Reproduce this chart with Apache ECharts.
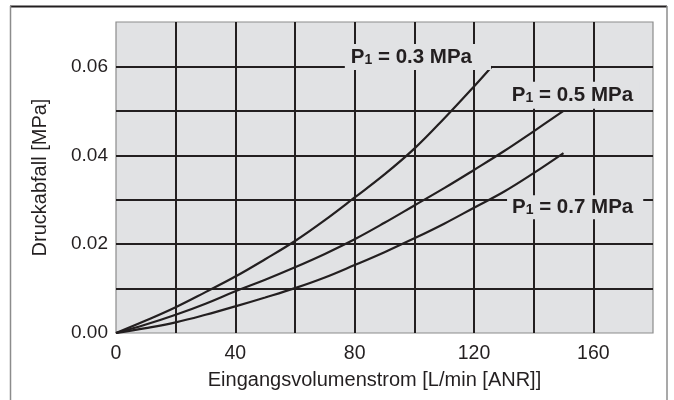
<!DOCTYPE html>
<html>
<head>
<meta charset="utf-8">
<script src="https://cdn.jsdelivr.net/npm/echarts@6/dist/echarts.min.js"></script>
<style>
html,body{margin:0;padding:0;background:#fff;}
#chart{width:674px;height:400px;}
</style>
</head>
<body>
<div id="chart"></div>
<script>
// Flow (L/min [ANR]) vs. pressure drop (MPa)
const flow03 = [0, 10, 20, 30, 40, 50, 60, 70, 80, 90, 100, 110, 120, 126];
const drop03 = [0, 0.0028, 0.0058, 0.0092, 0.0127, 0.0166, 0.0207, 0.0254, 0.0305, 0.0357, 0.0415, 0.0483, 0.0555, 0.0600];
const flow05 = [0, 10, 20, 30, 40, 50, 60, 70, 80, 90, 100, 110, 120, 130, 140, 150];
const drop05 = [0, 0.0019, 0.0041, 0.0066, 0.0094, 0.0120, 0.0148, 0.0178, 0.0211, 0.0248, 0.0287, 0.0326, 0.0367, 0.0409, 0.0454, 0.0500];
const flow07 = [0, 10, 20, 30, 40, 50, 60, 70, 80, 90, 100, 110, 120, 130, 140, 150];
const drop07 = [0, 0.0011, 0.0024, 0.0041, 0.0060, 0.0080, 0.0101, 0.0125, 0.0153, 0.0182, 0.0213, 0.0246, 0.0282, 0.0318, 0.0360, 0.0405];

const seriesNames = ['0.3 MPa', '0.5 MPa', '0.7 MPa'];
const labelX = [101.2, 153.0, 153.9];
const labelY = [0.0621, 0.0535, 0.0283];

const xTicks = [0, 40, 80, 120, 160];
const yTicks = [0, 0.02, 0.04, 0.06];

const xName = 'Eingangsvolumenstrom [L/min [ANR]]';
const yName = 'Druckabfall [MPa]';

const INK = '#231f20';
const PLOT_BG = '#e1e2e4';
const FONT = '"Liberation Sans", Arial, Helvetica, sans-serif';
const LABEL_PAD = [[2, 19, 2, 6], [2, 6, 3, 6], [1, 10, 1, 5]];

function pairs(xs, ys) { return xs.map((x, i) => [x, ys[i]]); }
const allData = [pairs(flow03, drop03), pairs(flow05, drop05), pairs(flow07, drop07)];

const chart = echarts.init(document.getElementById('chart'), null, {renderer: 'canvas'});

const series = allData.map((d, i) => ({
  type: 'line',
  name: seriesNames[i],
  data: d,
  smooth: 0.4,
  showSymbol: false,
  symbol: 'none',
  lineStyle: {color: INK, width: 2.2},
  z: 3,
  markPoint: {
    symbol: 'rect',
    symbolSize: 0,
    silent: true,
    data: [{coord: [labelX[i], labelY[i]]}],
    label: {
      show: true,
      position: 'inside',
      formatter: '{p|P}{s|1}{p| = ' + seriesNames[i] + '}',
      backgroundColor: PLOT_BG,
      padding: LABEL_PAD[i],
      rich: {
        p: {fontFamily: FONT, fontSize: 20.5, fontWeight: 'bold', color: INK, lineHeight: 22, verticalAlign: 'bottom'},
        s: {fontFamily: FONT, fontSize: 14, fontWeight: 'bold', color: INK, lineHeight: 22, verticalAlign: 'bottom', padding: [0, 0, 1, 0]}
      }
    }
  }
}));

chart.setOption({
  animation: false,
  backgroundColor: '#ffffff',
  grid: {
    left: 116, right: 21, top: 22, bottom: 67,
    show: true, backgroundColor: PLOT_BG, borderColor: '#8c8c8c', borderWidth: 1.2
  },
  xAxis: {
    type: 'value', min: 0, max: 180, interval: 20,
    name: xName, nameLocation: 'middle', nameGap: 37,
    nameTextStyle: {fontFamily: FONT, fontSize: 20, color: INK, padding: [0, 20, 0, 0]},
    axisLine: {show: false}, axisTick: {show: false},
    axisLabel: {
      fontFamily: FONT, fontSize: 19.5, color: INK, margin: 11,
      formatter: v => xTicks.indexOf(Math.round(v)) >= 0 ? String(Math.round(v)) : ''
    },
    splitLine: {show: true, showMinLine: false, showMaxLine: false, lineStyle: {color: INK, width: 2}}
  },
  yAxis: {
    type: 'value', min: 0, max: 0.07, interval: 0.01,
    name: yName, nameLocation: 'middle', nameRotate: 90, nameGap: 66,
    nameTextStyle: {fontFamily: FONT, fontSize: 20, color: INK},
    axisLine: {show: false}, axisTick: {show: false},
    axisLabel: {
      fontFamily: FONT, fontSize: 19, color: INK, margin: 8,
      formatter: v => {
        const r = Math.round(v * 100) / 100;
        return yTicks.some(t => Math.abs(t - r) < 1e-9) ? r.toFixed(2) : '';
      }
    },
    splitLine: {show: true, showMinLine: false, showMaxLine: false, lineStyle: {color: INK, width: 2}}
  },
  graphic: [
    {type: 'line', shape: {x1: 10, y1: 6.5, x2: 667, y2: 6.5}, style: {stroke: INK, lineWidth: 2}, silent: true},
    {type: 'line', shape: {x1: 10.5, y1: 6, x2: 10.5, y2: 400}, style: {stroke: '#8c8c8c', lineWidth: 1.5}, silent: true},
    {type: 'line', shape: {x1: 667, y1: 6, x2: 667, y2: 400}, style: {stroke: '#8c8c8c', lineWidth: 1.5}, silent: true}
  ],
  series: series
});
</script>
</body>
</html>
